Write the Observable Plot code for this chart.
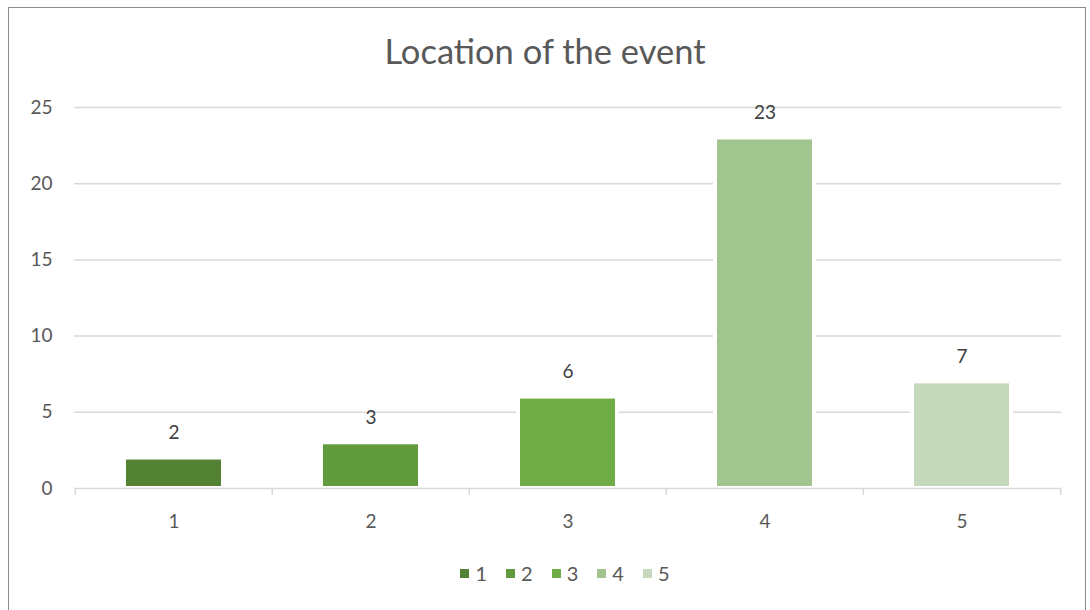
<!DOCTYPE html>
<html>
<head>
<meta charset="utf-8">
<script src="https://cdn.jsdelivr.net/npm/d3@7"></script>
<script src="https://cdn.jsdelivr.net/npm/@observablehq/plot@0.6"></script>
<style>
  body { margin: 0; background: #fff; font-family: Lato, "Open Sans", sans-serif; }
  #wrap { position: relative; width: 1090px; height: 610px; overflow: hidden; background: #fff; }
  #frame { position: absolute; left: 8px; top: 7px; width: 1078px; height: 620px; border: 1px solid #8c8c8c; box-sizing: border-box; z-index: 5; pointer-events: none; }
  #title { position: absolute; left: 0; width: 1090px; top: 30px; text-align: center; font-size: 34.5px; font-weight: 400; color: #595959; }
  #chart { position: absolute; left: 0; top: 90px; }
  #legend { position: absolute; left: 20px; width: 1090px; top: 561px; display: flex; justify-content: center; gap: 19px; font-size: 20px; color: #595959; }
  #legend .item { display: flex; align-items: center; gap: 6px; }
  #legend .sw { width: 9px; height: 9px; display: inline-block; }
</style>
</head>
<body>
<div id="wrap">
  <div id="frame"></div>
  <div id="title">Location of the event</div>
  <div id="chart"></div>
  <div id="legend"></div>
</div>
<script>
const categories = ["1", "2", "3", "4", "5"];
const values = [2, 3, 6, 23, 7];
const colors = ["#548235", "#629b3e", "#70ad47", "#a2c48f", "#c5d8bb"];
const yTicks = [0, 5, 10, 15, 20, 25];

const data = categories.map((c, i) => ({category: c, value: values[i]}));

const W = 1090, H = 460, ML = 74, MR = 29, MT = 17, MB = 62;
const step = (W - ML - MR) / categories.length;

const chart = Plot.plot({
  width: W,
  height: H,
  marginLeft: ML,
  marginRight: MR,
  marginTop: MT,
  marginBottom: MB,
  style: {fontFamily: "Lato, 'Open Sans', sans-serif", fontSize: "19px", color: "#595959", background: "transparent"},
  x: {domain: categories, paddingInner: 0.5, paddingOuter: 0.25, label: null},
  y: {domain: [0, 25], ticks: yTicks, label: null},
  color: {domain: categories, range: colors},
  marks: [
    Plot.gridY(yTicks.filter(t => t > 0), {stroke: "#d9d9d9", strokeOpacity: 1, strokeWidth: 1.5}),
    Plot.axisY({ticks: yTicks, tickSize: 0, tickPadding: 22, fontSize: 19, fill: "#595959", label: null}),
    Plot.axisX({tickSize: 0, tickPadding: 26, fontSize: 19, fill: "#595959", label: null}),
    Plot.barY(data, {x: "category", y: "value", fill: "category", stroke: "white", strokeWidth: 4}),
    Plot.ruleY([0], {stroke: "#d9d9d9", strokeWidth: 1.5}),
    Plot.ruleX(categories, {x: d => d, dx: -step / 2, y1: 0, y2: 0, stroke: "#d9d9d9", strokeWidth: 1.5, insetBottom: -7}),
    Plot.ruleX(categories.slice(-1), {x: d => d, dx: step / 2, y1: 0, y2: 0, stroke: "#d9d9d9", strokeWidth: 1.5, insetBottom: -7}),
    Plot.text(data, {x: "category", y: "value", text: d => String(d.value), dy: -25, fontSize: 19, fill: "#404040"})
  ]
});
document.getElementById("chart").appendChild(chart);

const legend = document.getElementById("legend");
categories.forEach((c, i) => {
  const item = document.createElement("span");
  item.className = "item";
  const sw = document.createElement("span");
  sw.className = "sw";
  sw.style.background = colors[i];
  const lab = document.createElement("span");
  lab.textContent = c;
  item.appendChild(sw);
  item.appendChild(lab);
  legend.appendChild(item);
});
</script>
</body>
</html>
